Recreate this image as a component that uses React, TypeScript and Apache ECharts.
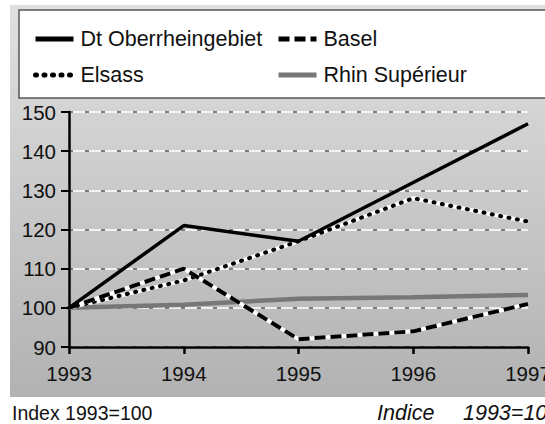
import React, { useEffect, useRef } from "react";
import * as echarts from "echarts";

const years = ["1993", "1994", "1995", "1996", "1997"];
const dtOberrhein = [100, 121, 117, 132, 147];
const basel = [100, 110, 92, 94, 101];
const elsass = [100, 107, 117, 128, 122];
const rhinSuperieur = [100, 100.8, 102.3, 102.7, 103.3];
const yTicks = { min: 90, max: 150, interval: 10 };
const noteLeft = "Index 1993=100";
const noteRightWord = "Indice";
const noteRightValue = "1993=100";

const FONT = "'Liberation Sans', Arial, Helvetica, sans-serif";

export default function App() {
  const ref = useRef<HTMLDivElement>(null);
  useEffect(() => {
    if (!ref.current) return;
    const chart = echarts.init(ref.current, undefined, { renderer: "svg" });
    const base = {
      type: "line",
      symbol: "none",
      showSymbol: false,
      silent: true,
      xAxisIndex: 0,
      yAxisIndex: 0,
    };
    const legendText = {
      fontSize: 21.5,
      color: "#111",
      fontFamily: FONT,
      lineHeight: 20,
      padding: [0, 0, 0, 2],
    };
    const option: any = {
      animation: false,
      backgroundColor: "#ffffff",
      textStyle: { fontFamily: FONT },
      graphic: [
        {
          type: "rect",
          z: -10,
          silent: true,
          shape: { x: 10, y: 5, width: 540, height: 392 },
          style: {
            fill: new echarts.graphic.LinearGradient(0, 0, 0, 1, [
              { offset: 0, color: "#e0e0e0" },
              { offset: 1, color: "#b2b2b2" },
            ]),
          },
        },
        {
          type: "rect",
          z: -5,
          silent: true,
          shape: { x: 19, y: 10, width: 540, height: 88 },
          style: { fill: "#ffffff", stroke: "#555555", lineWidth: 1.5 },
        },
      ],
      title: [
        {
          text: noteLeft,
          left: 12,
          top: 403,
          padding: 0,
          textStyle: { fontSize: 19.5, fontWeight: "normal", color: "#111", fontFamily: FONT },
        },
        {
          text: noteRightWord,
          left: 377,
          top: 402,
          padding: 0,
          textStyle: {
            fontSize: 21.5,
            fontWeight: "normal",
            fontStyle: "italic",
            color: "#111",
            fontFamily: FONT,
          },
        },
        {
          text: noteRightValue,
          left: 463,
          top: 402,
          padding: 0,
          textStyle: {
            fontSize: 21.5,
            fontWeight: "normal",
            fontStyle: "italic",
            color: "#111",
            fontFamily: FONT,
          },
        },
      ],
      legend: [
        {
          data: ["Dt Oberrheingebiet", "Elsass"],
          orient: "vertical",
          left: 33,
          top: 28,
          padding: 0,
          itemWidth: 38,
          itemHeight: 14,
          itemGap: 14,
          selectedMode: false,
          itemStyle: { opacity: 0 },
          lineStyle: { width: 5 },
          textStyle: legendText,
        },
        {
          data: ["Basel", "Rhin Supérieur"],
          orient: "vertical",
          left: 276,
          top: 28,
          padding: 0,
          itemWidth: 38,
          itemHeight: 14,
          itemGap: 14,
          selectedMode: false,
          itemStyle: { opacity: 0 },
          lineStyle: { width: 5 },
          textStyle: legendText,
        },
      ],
      grid: {
        left: 69,
        right: 17,
        top: 112,
        bottom: 77,
        containLabel: false,
        outerBoundsMode: "none",
      },
      xAxis: {
        type: "category",
        data: years,
        boundaryGap: false,
        axisLine: { lineStyle: { color: "#000", width: 2.5 } },
        axisTick: { show: true, length: 7, lineStyle: { color: "#000", width: 2.5 } },
        axisLabel: {
          fontSize: 20.5,
          color: "#111",
          margin: 16,
          fontFamily: FONT,
          showMaxLabel: true,
          hideOverlap: false,
        },
        splitLine: { show: false },
      },
      yAxis: [
        {
          type: "value",
          min: yTicks.min,
          max: yTicks.max,
          interval: yTicks.interval,
          axisLine: { show: true, lineStyle: { color: "#000", width: 2.5 } },
          axisTick: { show: true, length: 8, lineStyle: { color: "#000", width: 2 } },
          axisLabel: { fontSize: 20.5, color: "#111", margin: 13, fontFamily: FONT },
          splitLine: { show: true, lineStyle: { color: "#ffffff", width: 1.5 } },
        },
        {
          type: "value",
          min: yTicks.min,
          max: yTicks.max,
          interval: yTicks.interval,
          position: "left",
          axisLine: { show: false },
          axisTick: { show: false },
          axisLabel: { show: false },
          splitLine: { show: true, lineStyle: { color: "#555555", width: 1.5, type: [4, 12] } },
        },
      ],
      series: [
        {
          ...base,
          name: "Rhin Supérieur",
          data: rhinSuperieur,
          color: "#777777",
          lineStyle: { color: "#777777", width: 4.5 },
          z: 2,
        },
        {
          ...base,
          name: "Elsass-underlay",
          data: elsass,
          lineStyle: { color: "#ffffff", width: 4 },
          z: 3,
        },
        {
          ...base,
          name: "Elsass",
          data: elsass,
          color: "#000",
          lineStyle: { color: "#000", width: 4, type: [1, 7.5], cap: "round" },
          z: 4,
        },
        {
          ...base,
          name: "Basel-underlay",
          data: basel,
          lineStyle: { color: "#ffffff", width: 4 },
          z: 5,
        },
        {
          ...base,
          name: "Basel",
          data: basel,
          color: "#000",
          lineStyle: { color: "#000", width: 4, type: [11, 5] },
          z: 6,
        },
        {
          ...base,
          name: "Dt Oberrheingebiet",
          data: dtOberrhein,
          color: "#000",
          lineStyle: { color: "#000", width: 3.5 },
          z: 7,
        },
      ],
    };
    chart.setOption(option);
    return () => chart.dispose();
  }, []);
  return (
    <div
      ref={ref}
      style={{ position: "fixed", left: 0, top: 0, width: 545, height: 424 }}
    />
  );
}
